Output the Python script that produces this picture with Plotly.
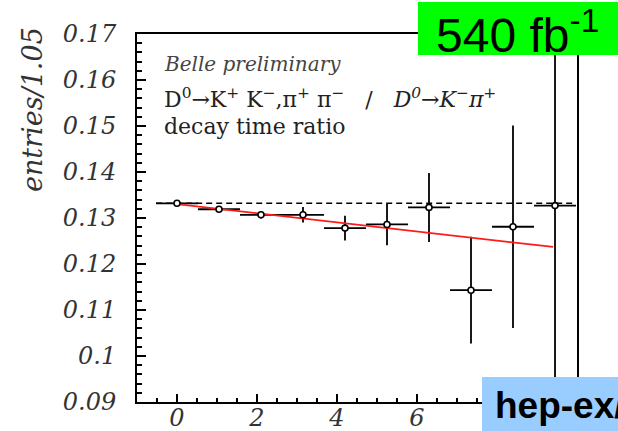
import plotly.graph_objects as go

# ---- data ----
decay_time = [0.0, 1.05, 2.1, 3.15, 4.2, 5.25, 6.3, 7.35, 8.4, 9.45]
ratio = [0.1332, 0.1319, 0.1307, 0.1307, 0.1278, 0.1286, 0.1323, 0.1143, 0.1281, 0.1327]
ratio_err = [0.0003, 0.0004, 0.0008, 0.0017, 0.0027, 0.0045, 0.0075, 0.0116, 0.022, 0.06]
bin_half = [0.525] * 10

fit_x = [0.0, 9.4]
fit_y = [0.1330, 0.1237]

flat_x = [-0.52, 9.975]
flat_y = [0.1332, 0.1332]

x_ticks = [0, 2, 4, 6, 8]
x_ticktext = ["0", "2", "4", "6", "8"]
y_ticks = [0.09, 0.10, 0.11, 0.12, 0.13, 0.14, 0.15, 0.16, 0.17]
y_ticktext = ["0.09", "0.1", "0.11", "0.12", "0.13", "0.14", "0.15", "0.16", "0.17"]

W, H = 618, 431
L, R, T, B = 137, 41, 34, 29
PW, PH = W - L - R, H - T - B


def px(x):
    return (x - L) / PW


def py(y):
    return (H - B - y) / PH


SERIF = "DejaVu Serif"

fig = go.Figure()

fig.add_trace(go.Scatter(
    x=flat_x, y=flat_y, mode="lines",
    line=dict(color="black", width=1.6, dash="6px,4px"),
    hoverinfo="skip"))

fig.add_trace(go.Scatter(
    x=decay_time, y=ratio, mode="markers",
    marker=dict(size=1, color="black"),
    error_y=dict(type="data", array=ratio_err, color="black", thickness=1.8, width=0),
    error_x=dict(type="data", array=bin_half, color="black", thickness=1.8, width=0),
    hoverinfo="skip"))

fig.add_trace(go.Scatter(
    x=fit_x, y=fit_y, mode="lines",
    line=dict(color="#ff1a1a", width=1.8),
    hoverinfo="skip"))

fig.add_trace(go.Scatter(
    x=decay_time, y=ratio, mode="markers",
    marker=dict(symbol="circle", size=6, color="white",
                line=dict(color="black", width=1.6)),
    hoverinfo="skip"))

fig.update_layout(
    width=W, height=H,
    margin=dict(l=L, r=R, t=T, b=B, pad=0),
    paper_bgcolor="white", plot_bgcolor="white",
    showlegend=False,
    xaxis=dict(
        range=[-1, 10], showgrid=False, zeroline=False, automargin=False,
        showline=True, linecolor="black", linewidth=2, mirror=True,
        ticks="inside", ticklen=8, tickwidth=1.5, tickcolor="black",
        tickvals=x_ticks, ticktext=x_ticktext,
        tickfont=dict(family=SERIF, size=24, color="#333", style="italic"),
        ticklabelstandoff=-7,
        minor=dict(dtick=0.5, ticks="inside", ticklen=4, tickwidth=1.5, tickcolor="black", showgrid=False),
    ),
    yaxis=dict(
        range=[0.09, 0.17], showgrid=False, zeroline=False, automargin=False,
        showline=True, linecolor="black", linewidth=2, mirror=True,
        ticks="inside", ticklen=9, tickwidth=1.5, tickcolor="black",
        tickvals=y_ticks, ticktext=y_ticktext,
        tickfont=dict(family=SERIF, size=24, color="#333", style="italic"),
        ticklabelstandoff=14,
        minor=dict(dtick=0.002, tick0=0.09, ticks="inside", ticklen=5, tickwidth=1.5, tickcolor="black", showgrid=False),
    ),
    shapes=[
        dict(type="rect", xref="paper", yref="paper", layer="above",
             x0=px(418), x1=px(622), y0=py(55), y1=py(2),
             fillcolor="#00ff00", line=dict(width=0)),
        dict(type="rect", xref="paper", yref="paper", layer="above",
             x0=px(482), x1=px(622), y0=py(434), y1=py(377),
             fillcolor="#99ccff", line=dict(width=0)),
    ],
    annotations=[
        dict(text="entries/1.05", textangle=-90, xref="paper", yref="paper",
             x=px(32), y=py(110), xanchor="center", yanchor="middle", showarrow=False,
             font=dict(family=SERIF, size=27, color="#333", style="italic")),
        dict(text="Belle preliminary", xref="paper", yref="paper",
             x=px(162), y=py(64), xanchor="left", yanchor="middle", showarrow=False,
             font=dict(family=SERIF, size=20, color="#444", style="italic")),
        dict(text="D<sup>0</sup>→K<sup>+</sup> K<sup>−</sup>,π<sup>+</sup> π<sup>−</sup>"
                  "   /   <i>D<sup>0</sup>→K<sup>−</sup>π<sup>+</sup></i>",
             xref="paper", yref="paper",
             x=px(162), y=py(98), xanchor="left", yanchor="middle", showarrow=False,
             font=dict(family=SERIF, size=22, color="#222")),
        dict(text="decay time ratio", xref="paper", yref="paper",
             x=px(162), y=py(127), xanchor="left", yanchor="middle", showarrow=False,
             font=dict(family=SERIF, size=22, color="#222")),
        dict(text="540 fb<sup>-1</sup>", xref="paper", yref="paper",
             x=px(434), y=py(32), xanchor="left", yanchor="middle", showarrow=False,
             font=dict(family="Liberation Sans", size=48, color="black")),
        dict(text="<b>hep-ex/</b>", xref="paper", yref="paper",
             x=px(493), y=py(405), xanchor="left", yanchor="middle", showarrow=False,
             font=dict(family="Liberation Sans", size=37, color="black")),
    ],
)

fig.write_html("out.html", config={"displayModeBar": False},
               post_script="document.body.style.margin='0';document.body.style.overflow='hidden';")
